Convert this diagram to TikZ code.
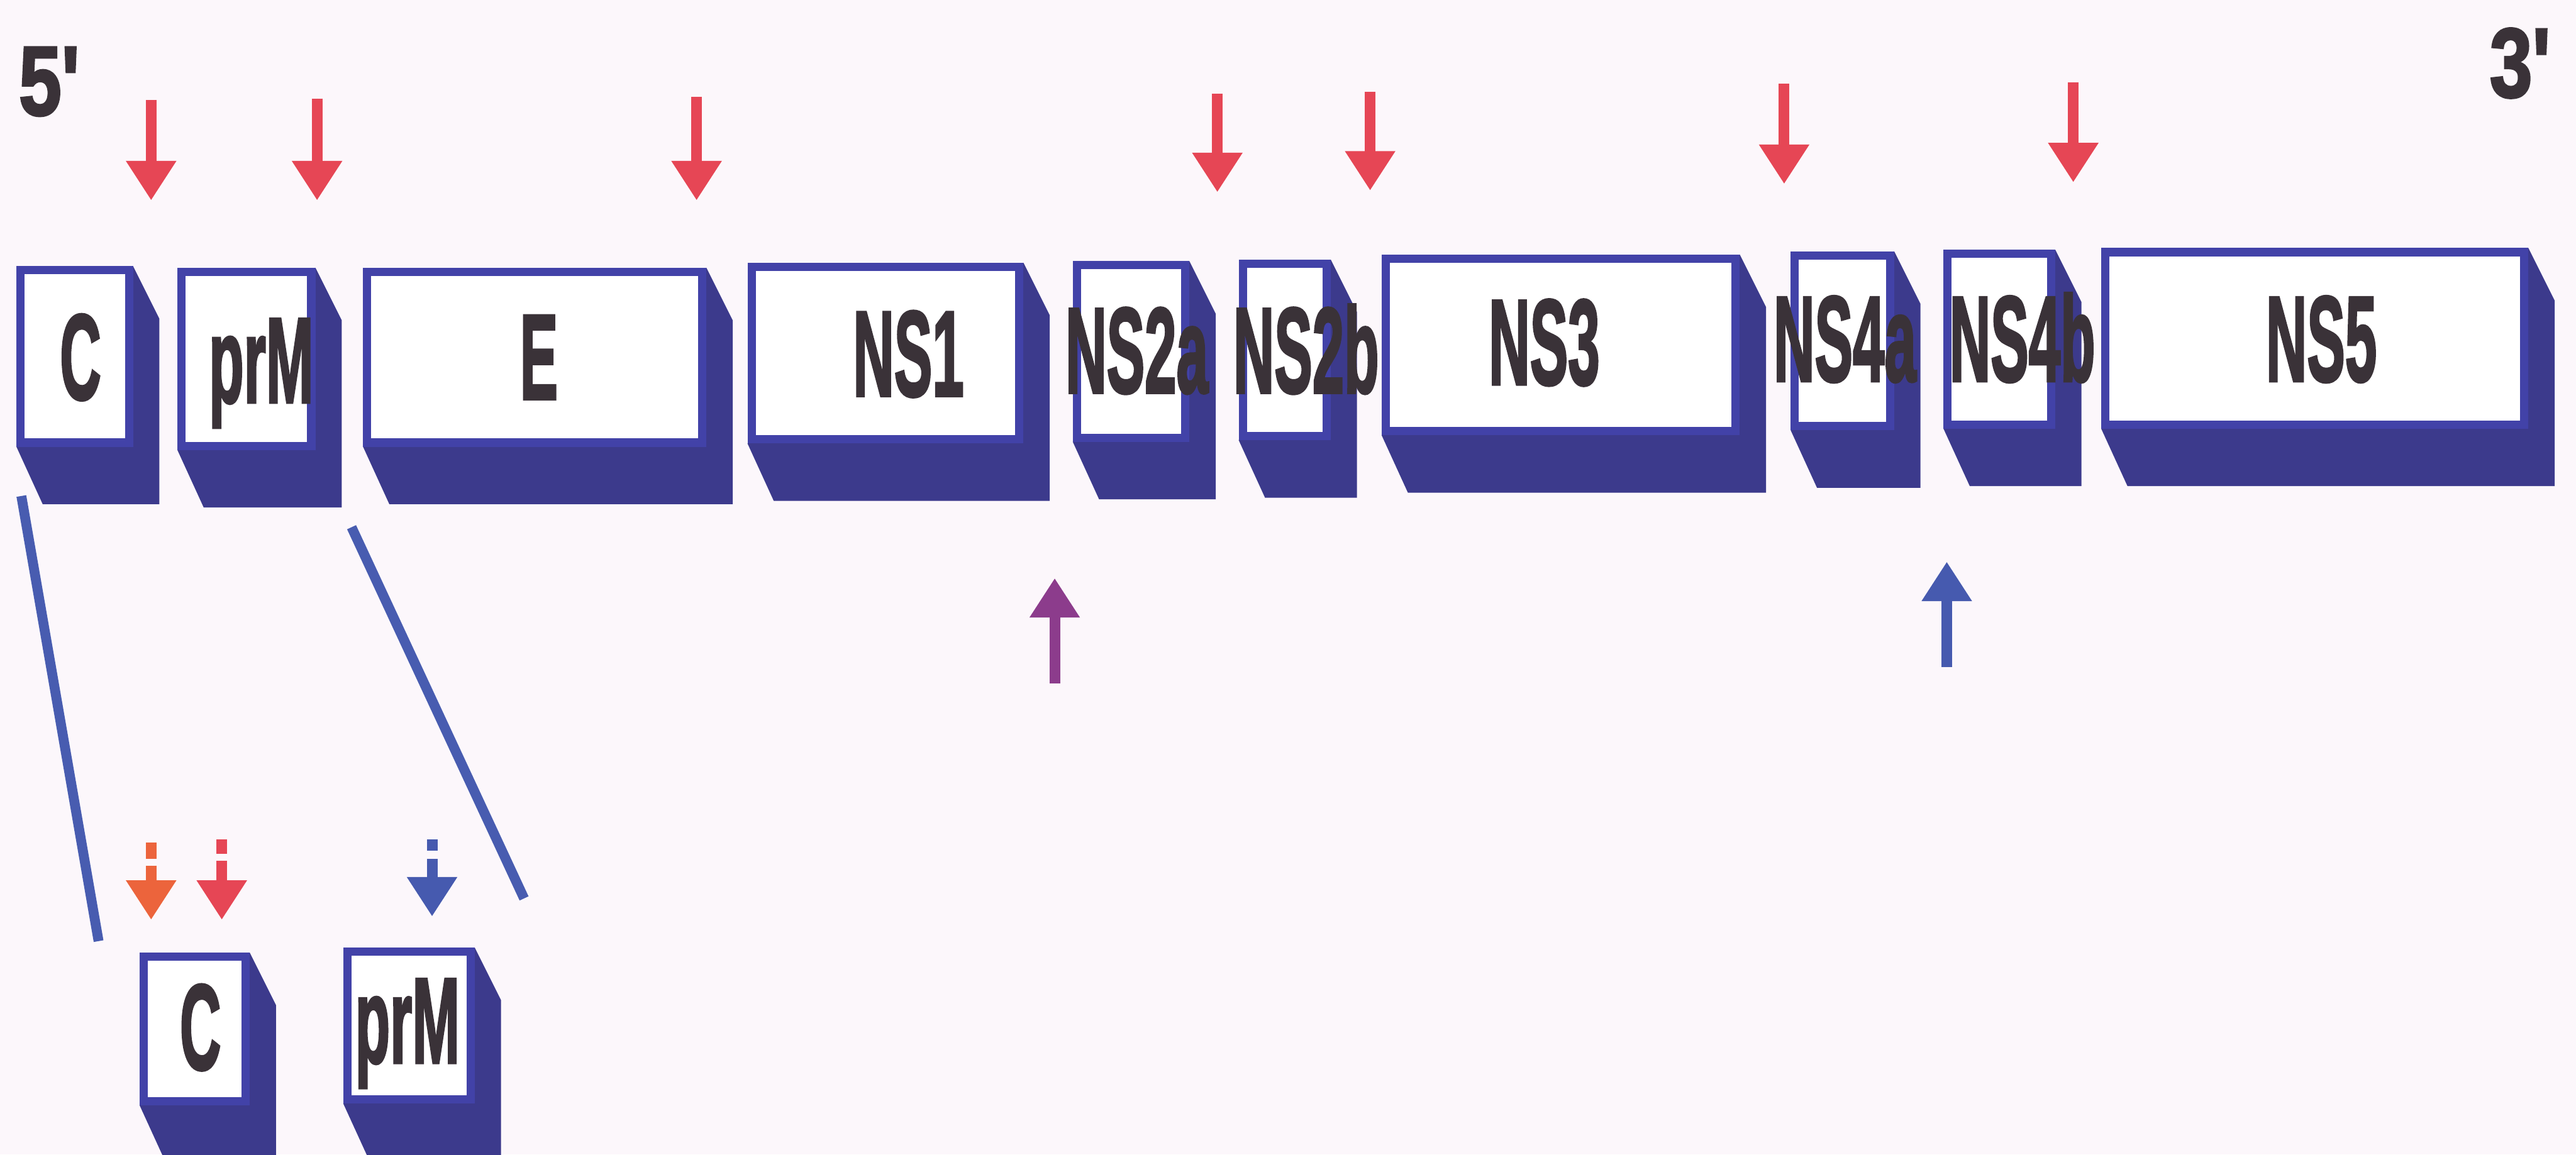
\documentclass[tikz,border=0pt]{standalone}
\usepackage{fontspec}
\setmainfont{Liberation Sans}
\newfontfamily\labfont{Liberation Sans}[BoldFeatures={FakeBold=2.5}]
\usetikzlibrary{arrows.meta}
\definecolor{bgc}{RGB}{252,247,251}
\definecolor{extr}{RGB}{60,58,140}
\definecolor{rim}{RGB}{66,66,168}
\definecolor{lnblue}{RGB}{72,92,176}
\definecolor{redA}{RGB}{230,70,85}
\definecolor{orgA}{RGB}{236,100,60}
\definecolor{purA}{RGB}{140,60,140}
\definecolor{bluA}{RGB}{70,90,175}
\definecolor{txt}{RGB}{58,50,56}
\newcommand{\sqz}[1]{\scalebox{0.47}[1]{#1}}
\newcommand{\genebox}[5]{%
  \fill[extr] (#2,#5) -- (#2+16,#5+35) -- (#4+16,#5+35) -- (#4+16,#3+32) -- (#4,#3) -- cycle;
  \node[face, minimum width={(#4-#2-5)*0.01cm}, minimum height={(#5-#3-5)*0.01cm}] (#1) at (#2+2.5,#3+2.5) {};
}
\tikzset{
  face/.style={draw=rim, line width=0.05cm, fill=white, inner sep=0pt, outer sep=0pt, anchor=north west},
  lab/.style={font=\labfont\fontsize{21}{21}\selectfont\bfseries, text=txt, inner sep=0pt, anchor=base},
  endlab/.style={font=\labfont\fontsize{17}{17}\selectfont\bfseries, text=txt, inner sep=0pt, anchor=base},
  link/.style={draw=lnblue, line width=0.06cm},
  arr/.style={line width=0.065cm, -{Triangle[width=0.29cm,length=0.24cm]}},
  dsh/.style={line width=0.065cm},
}
\begin{document}
\begin{tikzpicture}[x=0.01cm, y=-0.01cm]
\fill[bgc] (0,0) rectangle (1568,703);
\useasboundingbox (0,0) rectangle (1568,703);
\clip (0,0) rectangle (1568,703);

% main row of boxes
\genebox{bC}{10}{162}{81}{272}
\genebox{bprM}{108}{163}{192}{274}
\genebox{bE}{221}{163}{430}{272}
\genebox{bNSa}{455}{160}{623}{270}
\genebox{bNSba}{653}{159}{724}{269}
\genebox{bNSbb}{754}{158}{810}{268}
\genebox{bNSc}{841}{155}{1059}{265}
\genebox{bNSda}{1090}{153}{1153}{262}
\genebox{bNSdb}{1183}{152}{1251}{261}
\genebox{bNSe}{1279}{151}{1539}{261}

% lower boxes
\genebox{sC}{85}{580}{152}{673}
\genebox{sprM}{209}{577}{289}{672}

% labels
\node[lab] (tC) at (49,243) {\sqz{C}};
\node[lab] (tprM) at (159,245) {\sqz{prM}};
\node[lab] (tE) at (328,243) {\sqz{E}};
\node[lab] (tNSa) at (553,241) {\sqz{NS1}};
\node[lab] (tNSba) at (692,239) {\sqz{NS2a}};
\node[lab] (tNSbb) at (795,239) {\sqz{NS2b}};
\node[lab] (tNSc) at (940,234) {\sqz{NS3}};
\node[lab] (tNSda) at (1123,232) {\sqz{NS4a}};
\node[lab] (tNSdb) at (1231,232) {\sqz{NS4b}};
\node[lab] (tNSe) at (1413,232) {\sqz{NS5}};
\node[lab] (tsC) at (122,651) {\sqz{C}};
\node[lab] (tsprM) at (248,647) {\sqz{prM}};

% ends
\node[endlab] (five) at (30,70) {\scalebox{0.78}[1]{5\textquotesingle}};
\node[endlab] (three) at (1534,59) {\scalebox{0.78}[1]{3\textquotesingle}};

% connectors to the enlarged C-prM region
\coordinate (la) at (13,302);
\coordinate (lb) at (60,573);
\coordinate (ra) at (214,321);
\coordinate (rb) at (319,547);
\draw[link] (la) -- (lb);
\draw[link] (ra) -- (rb);

% red cleavage arrows
\foreach \x/\a/\b in {92/61/122, 193/60/122, 424/59/122, 741/57/117, 834/56/116, 1086/51/112, 1262/50/111}{
  \draw[arr, draw=redA, fill=redA] (\x,\a) -- (\x,\b);
}

% upward arrows
\coordinate (pa) at (642,416);
\coordinate (pb) at (642,352);
\draw[arr, draw=purA, fill=purA] (pa) -- (pb);
\coordinate (qa) at (1185,406);
\coordinate (qb) at (1185,342);
\draw[arr, draw=bluA, fill=bluA] (qa) -- (qb);

% dashed arrows on the lower boxes
\draw[dsh, draw=orgA] (92,513) -- (92,523);
\draw[arr, draw=orgA, fill=orgA] (92,527) -- (92,560);
\draw[dsh, draw=redA] (135,511) -- (135,520);
\draw[arr, draw=redA, fill=redA] (135,524) -- (135,560);
\draw[dsh, draw=bluA] (263,511) -- (263,518);
\draw[arr, draw=bluA, fill=bluA] (263,523) -- (263,558);
\end{tikzpicture}
\end{document}
